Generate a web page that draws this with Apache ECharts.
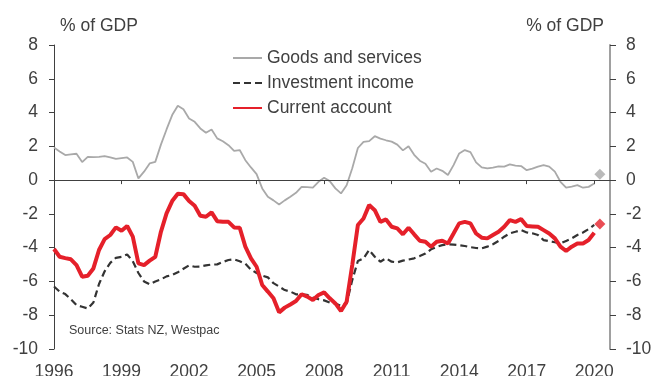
<!DOCTYPE html>
<html>
<head>
<meta charset="utf-8">
<script src="https://cdn.jsdelivr.net/npm/echarts@6.0.0/dist/echarts.min.js"></script>
<style>
html,body{margin:0;padding:0;background:#fff;}
#chart{width:653px;height:376px;}
</style>
</head>
<body>
<div id="chart"></div>
<script>
// Quarterly data, first quarter at 1996
var startYear = 1996;
var seriesNames = ['Goods and services', 'Investment income', 'Current account'];
var goods = [1.93,1.7,1.48,1.52,1.56,1.07,1.38,1.36,1.38,1.42,
  1.35,1.26,1.3,1.34,1.08,0.1,0.5,0.99,1.08,2.1,
  3.0,3.85,4.4,4.2,3.65,3.45,3.06,2.8,3.0,2.47,
  2.3,2.07,1.73,1.78,1.18,0.75,0.35,-0.49,-0.99,-1.2,
  -1.44,-1.2,-0.99,-0.75,-0.4,-0.42,-0.45,-0.1,0.14,-0.06,
  -0.49,-0.79,-0.3,0.7,1.9,2.27,2.31,2.6,2.46,2.36,
  2.28,2.1,1.76,2.01,1.5,1.15,0.97,0.5,0.69,0.55,
  0.3,0.89,1.58,1.78,1.66,1.05,0.75,0.69,0.74,0.81,
  0.8,0.93,0.86,0.83,0.59,0.68,0.8,0.89,0.8,0.5,
  -0.1,-0.45,-0.38,-0.3,-0.45,-0.4,-0.2];
var investment = [-6.3,-6.6,-6.75,-7.05,-7.4,-7.5,-7.6,-7.25,-6.15,-5.4,
  -4.9,-4.6,-4.54,-4.4,-4.8,-5.5,-6.0,-6.17,-6.0,-5.88,
  -5.7,-5.62,-5.46,-5.25,-5.05,-5.13,-5.12,-5.05,-5.0,-4.99,
  -4.85,-4.73,-4.69,-4.8,-4.95,-5.3,-5.5,-5.65,-5.76,-6.1,
  -6.3,-6.51,-6.6,-6.76,-6.78,-6.8,-6.96,-7.05,-7.12,-7.25,
  -7.3,-7.44,-7.3,-5.92,-4.79,-4.63,-4.14,-4.54,-4.83,-4.63,
  -4.83,-4.87,-4.77,-4.7,-4.63,-4.5,-4.35,-4.1,-3.95,-3.85,
  -3.8,-3.82,-3.85,-3.9,-3.97,-4.02,-4.04,-3.94,-3.8,-3.6,
  -3.35,-3.15,-3.06,-2.96,-3.1,-3.15,-3.25,-3.55,-3.62,-3.68,
  -3.75,-3.6,-3.45,-3.25,-3.1,-2.9,-2.65];
var current = [-4.08,-4.54,-4.62,-4.69,-5.03,-5.72,-5.66,-5.23,-4.14,-3.49,
  -3.25,-2.8,-3.0,-2.72,-3.35,-4.93,-5.03,-4.77,-4.54,-3.06,
  -1.97,-1.24,-0.81,-0.83,-1.24,-1.52,-2.11,-2.17,-1.91,-2.43,
  -2.47,-2.47,-2.8,-2.82,-3.94,-4.63,-5.13,-6.21,-6.6,-7.0,
  -7.83,-7.55,-7.36,-7.16,-6.76,-6.9,-7.1,-6.8,-6.65,-7.0,
  -7.3,-7.75,-7.2,-5.03,-2.66,-2.27,-1.48,-1.78,-2.47,-2.33,
  -2.76,-2.86,-3.21,-2.82,-3.21,-3.59,-3.65,-3.94,-3.65,-3.59,
  -3.75,-3.16,-2.56,-2.47,-2.56,-3.16,-3.41,-3.45,-3.25,-3.06,
  -2.76,-2.37,-2.47,-2.31,-2.72,-2.74,-2.76,-2.96,-3.16,-3.45,
  -3.94,-4.2,-3.94,-3.75,-3.75,-3.55,-3.12];
// forecast points (diamonds), one quarter after the last observation
var goodsForecast = 0.35;
var currentForecast = -2.6;
var yTicks = [-10, -8, -6, -4, -2, 0, 2, 4, 6, 8];
var yearTicks = [1996, 1999, 2002, 2005, 2008, 2011, 2014, 2017, 2020];

function toXY(arr) {
  return arr.map(function (v, i) { return [startYear + i / 4, v]; });
}
var forecastX = startYear + goods.length / 4;

var FONT = '"Liberation Sans", Arial, sans-serif';
var TXT = '#404040';

var chart = echarts.init(document.getElementById('chart'), null, {renderer: 'canvas'});
chart.setOption({
  animation: false,
  backgroundColor: '#ffffff',
  textStyle: {fontFamily: FONT, color: TXT},
  grid: {left: 54, right: 43, top: 45, bottom: 27, containLabel: false, outerBoundsMode: 'none'},
  legend: {
    orient: 'vertical',
    left: 232, top: 49, padding: 0,
    itemWidth: 29, itemHeight: 14, itemGap: 7,
    data: seriesNames,
    itemStyle: {opacity: 0},
    textStyle: {fontFamily: FONT, fontSize: 17.5, color: TXT},
    selectedMode: false
  },
  xAxis: {
    type: 'value',
    min: yearTicks[0], max: 2020.7, interval: 3,
    axisLine: {show: true, lineStyle: {color: TXT, width: 1}},
    axisTick: {show: true, length: 4, lineStyle: {color: TXT}},
    splitLine: {show: false},
    axisLabel: {
      showMaxLabel: false,
      margin: 14, fontSize: 17.5, color: TXT, fontFamily: FONT,
      formatter: function (v) { return yearTicks.indexOf(v) >= 0 ? String(v) : ''; }
    }
  },
  yAxis: [{
    type: 'value', min: yTicks[0], max: yTicks[yTicks.length - 1], interval: 2,
    position: 'left',
    axisLine: {show: true, lineStyle: {color: TXT, width: 1}},
    axisTick: {show: true, length: 5, lineStyle: {color: TXT}},
    splitLine: {show: false},
    axisLabel: {margin: 16, fontSize: 17.5, color: TXT, fontFamily: FONT}
  }, {
    type: 'value', min: yTicks[0], max: yTicks[yTicks.length - 1], interval: 2,
    position: 'right',
    axisLine: {show: true, lineStyle: {color: '#a0a0a0', width: 2}},
    axisTick: {show: true, length: 6, lineStyle: {color: TXT}},
    splitLine: {show: false},
    axisLabel: {margin: 16, fontSize: 17.5, color: TXT, fontFamily: FONT}
  }],
  graphic: [
    {type: 'text', left: 60, top: 17, style: {text: '% of GDP', font: '17.5px ' + FONT, fill: TXT}},
    {type: 'text', right: 49, top: 17, style: {text: '% of GDP', font: '17.5px ' + FONT, fill: TXT}},
    {type: 'text', left: 69, top: 324, style: {text: 'Source: Stats NZ, Westpac', font: '12.5px ' + FONT, fill: TXT}}
  ],
  series: [{
    name: seriesNames[0], type: 'line', data: toXY(goods),
    symbol: 'none', z: 2,
    lineStyle: {color: '#a9a9a9', width: 1.8},
    itemStyle: {color: '#a9a9a9', opacity: 0},
    markLine: {
      silent: true, symbol: ['none', 'none'], animation: false,
      label: {show: false},
      lineStyle: {color: '#404040', width: 1, type: 'solid', opacity: 1},
      data: [{yAxis: 0}]
    }
  }, {
    name: seriesNames[1], type: 'line', data: toXY(investment),
    symbol: 'none', z: 3,
    lineStyle: {color: '#333333', width: 2.2, type: [7, 4]},
    itemStyle: {color: '#333333', opacity: 0}
  }, {
    name: seriesNames[2], type: 'line', data: toXY(current),
    symbol: 'none', z: 4,
    lineStyle: {color: '#e5202a', width: 4},
    itemStyle: {color: '#e5202a', opacity: 0}
  }, {
    name: 'gs-forecast', type: 'scatter', data: [[forecastX, goodsForecast]],
    symbol: 'diamond', symbolSize: 11, z: 5,
    itemStyle: {color: '#a9a9a9'}
  }, {
    name: 'ca-forecast', type: 'scatter', data: [[forecastX, currentForecast]],
    symbol: 'diamond', symbolSize: 11, z: 5,
    itemStyle: {color: '#e5202a'}
  }]
});
</script>
</body>
</html>
